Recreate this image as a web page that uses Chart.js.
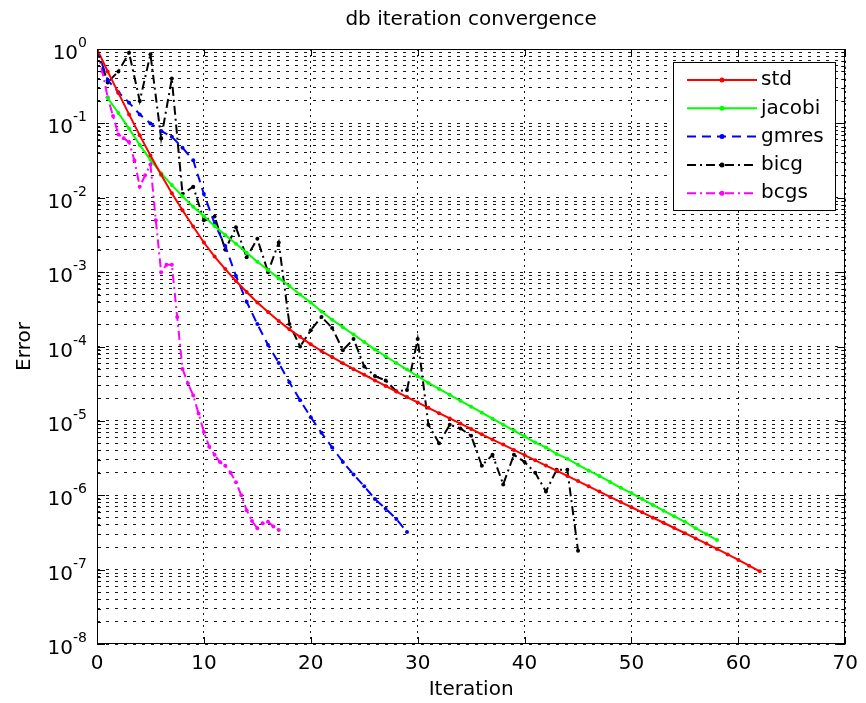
<!DOCTYPE html>
<html>
<head>
<meta charset="utf-8">
<title>db iteration convergence</title>
<script src="https://cdn.jsdelivr.net/npm/chart.js@4.4.1/dist/chart.umd.min.js"></script>
<style>
  html, body { margin: 0; padding: 0; background: #fff; }
  #wrap { width: 866px; height: 703px; }
</style>
</head>
<body>
<div id="wrap"><canvas id="convChart" width="866" height="703"></canvas></div>
<script>
// Residual history of each solver (error vs iteration)
const stdErr = [1, 0.50, 0.257, 0.132, 0.069, 0.037, 0.0204, 0.0115, 0.0068, 0.0041,
  0.0025, 0.00162, 0.0011, 7.6e-4, 5.4e-4, 3.9e-4, 2.9e-4, 2.2e-4, 1.7e-4, 1.35e-4,
  1.07e-4, 8.7e-5, 7.2e-5, 5.96e-5, 4.95e-5, 4.17e-5, 3.5e-5, 2.95e-5, 2.48e-5, 2.09e-5,
  1.77e-5, 1.5e-5, 1.27e-5, 1.08e-5, 9.2e-6, 7.8e-6, 6.6e-6, 5.6e-6, 4.8e-6, 4.07e-6,
  3.47e-6, 2.95e-6, 2.51e-6, 2.14e-6, 1.82e-6, 1.55e-6, 1.32e-6, 1.12e-6, 9.5e-7, 8.1e-7,
  6.9e-7, 5.9e-7, 5.0e-7, 4.27e-7, 3.63e-7, 3.09e-7, 2.63e-7, 2.24e-7, 1.9e-7, 1.6e-7,
  1.35e-7, 1.13e-7, 9.5e-8];

// jacobi starts at iteration 1
const jacobiErr = [0.219, 0.138, 0.0851, 0.0513, 0.0324, 0.0214, 0.0148, 0.0105, 0.00759,
  0.00562, 0.00417, 0.00316, 0.0024, 0.00182, 0.00138, 0.00107, 8.3e-4, 6.5e-4, 5.0e-4,
  3.9e-4, 2.95e-4, 2.29e-4, 1.82e-4, 1.45e-4, 1.15e-4, 9.1e-5, 7.4e-5, 6.0e-5, 4.9e-5,
  3.98e-5, 3.24e-5, 2.69e-5, 2.24e-5, 1.86e-5, 1.55e-5, 1.29e-5, 1.07e-5, 8.9e-6, 7.4e-6,
  6.2e-6, 5.1e-6, 4.4e-6, 3.6e-6, 3.1e-6, 2.57e-6, 2.14e-6, 1.82e-6, 1.51e-6, 1.26e-6,
  1.07e-6, 8.9e-7, 7.4e-7, 6.2e-7, 5.2e-7, 4.4e-7, 3.6e-7, 3.0e-7, 2.5e-7];

const gmresErr = [1, 0.38, 0.263, 0.19, 0.132, 0.1, 0.079, 0.066, 0.047, 0.032,
  0.0112, 0.0045, 0.00224, 8.9e-4, 4.0e-4, 2.0e-4, 1.05e-4, 6.0e-5, 3.3e-5, 1.9e-5,
  1.12e-5, 6.9e-6, 4.4e-6, 2.8e-6, 1.9e-6, 1.32e-6, 8.9e-7, 6.6e-7, 4.8e-7, 3.2e-7];

const bicgErr = [1, 0.355, 0.50, 0.89, 0.20, 0.85, 0.063, 0.40, 0.0112, 0.0141,
  0.0050, 0.0056, 0.0020, 0.0040, 0.00158, 0.0028, 0.0010, 0.0025, 2.0e-4, 1.0e-4,
  1.66e-4, 2.5e-4, 1.78e-4, 8.9e-5, 1.26e-4, 5.4e-5, 4.0e-5, 3.5e-5, 2.5e-5, 2.6e-5,
  1.26e-4, 8.9e-6, 5.0e-6, 8.9e-6, 7.9e-6, 6.3e-6, 2.5e-6, 3.5e-6, 1.4e-6, 3.5e-6,
  2.8e-6, 2.0e-6, 1.12e-6, 2.2e-6, 2.2e-6, 1.8e-7];

// bicgstab reports half steps
const bcgsIter = [0, 0.5, 1, 1.5, 2, 2.5, 3, 3.5, 4, 4.5, 5, 5.5, 6, 6.5, 7, 7.5, 8, 8.5,
  9, 9.5, 10, 10.5, 11, 11.5, 12, 12.5, 13, 13.5, 14, 14.5, 15, 15.5, 16, 16.5, 17];
const bcgsErr = [1, 0.50, 0.224, 0.126, 0.071, 0.063, 0.056, 0.0316, 0.0141, 0.020,
  0.028, 0.005, 0.001, 0.00126, 0.00126, 2.5e-4, 5.0e-5, 3.2e-5, 2.2e-5, 1.26e-5,
  7.1e-6, 4.5e-6, 3.5e-6, 2.8e-6, 2.5e-6, 2.0e-6, 1.5e-6, 1.0e-6, 6.3e-7, 4.5e-7,
  3.6e-7, 4.2e-7, 4.4e-7, 3.8e-7, 3.4e-7];

const xTicks = [0, 10, 20, 30, 40, 50, 60, 70];
const decades = [0, -1, -2, -3, -4, -5, -6, -7, -8];
const mantissas = [1, 2, 3, 4, 5, 6, 7, 8, 9];

const FONT = 'DejaVu Sans';

// all minor/major positions of the log axis
const yTickVals = [];
decades.forEach(d => {
  if (d === 0) { yTickVals.push(1); return; }
  mantissas.forEach(m => yTickVals.push(+(m + 'e' + d)));
});
yTickVals.sort((a, b) => a - b);

function pts(vals, offset) {
  return vals.map((v, i) => ({ x: i + offset, y: v }));
}

// frame, inward ticks, superscript labels, title and legend, MATLAB-like
const matlabFrame = {
  id: 'matlabFrame',
  afterDatasetsDraw(chart) {
    const { ctx, chartArea: a, scales: { x, y } } = chart;
    ctx.save();
    ctx.setLineDash([]);
    ctx.strokeStyle = '#000';
    ctx.lineWidth = 1;
    ctx.strokeRect(Math.round(a.left) + 0.5, Math.round(a.top) + 0.5,
      Math.round(a.right - a.left) - 1, Math.round(a.bottom - a.top) - 1);

    ctx.beginPath();
    xTicks.forEach(v => {
      const px = Math.round(x.getPixelForValue(v)) + 0.5;
      ctx.moveTo(px, a.bottom); ctx.lineTo(px, a.bottom - 7);
      ctx.moveTo(px, a.top); ctx.lineTo(px, a.top + 7);
    });
    yTickVals.forEach(v => {
      const py = Math.round(y.getPixelForValue(v)) + 0.5;
      const len = Math.abs(Math.log10(v) - Math.round(Math.log10(v))) < 1e-9 ? 8 : 4;
      ctx.moveTo(a.left, py); ctx.lineTo(a.left + len, py);
      ctx.moveTo(a.right, py); ctx.lineTo(a.right - len, py);
    });
    ctx.stroke();

    // y labels 10^k
    ctx.fillStyle = '#000';
    ctx.textBaseline = 'alphabetic';
    ctx.textAlign = 'left';
    decades.forEach(d => {
      const py = y.getPixelForValue(Math.pow(10, d));
      const exp = String(d);
      ctx.font = '14px ' + FONT;
      const ew = ctx.measureText(exp).width;
      ctx.font = '20px ' + FONT;
      const bw = ctx.measureText('10').width;
      const right = a.left - 10;
      ctx.fillText('10', right - ew - bw, py + 10);
      ctx.font = '14px ' + FONT;
      ctx.fillText(exp, right - ew, py - 2);
    });

    // title
    ctx.font = '20px ' + FONT;
    ctx.textAlign = 'center';
    ctx.textBaseline = 'middle';
    ctx.fillText('db iteration convergence', (a.left + a.right) / 2, 20);

    // legend
    const lx = 673, ly = 62, lw = 162, lh = 148;
    ctx.fillStyle = '#fff';
    ctx.fillRect(lx, ly, lw, lh);
    ctx.strokeStyle = '#000';
    ctx.lineWidth = 1;
    ctx.strokeRect(lx + 0.5, ly + 0.5, lw, lh);
    ctx.textAlign = 'left';
    ctx.font = '20px ' + FONT;
    chart.data.datasets.forEach((ds, i) => {
      const yy = 80 + i * 28.3;
      ctx.strokeStyle = ds.borderColor;
      ctx.lineWidth = 2;
      ctx.setLineDash(ds.borderDash || []);
      ctx.beginPath();
      ctx.moveTo(687, yy); ctx.lineTo(757, yy);
      ctx.stroke();
      ctx.setLineDash([]);
      ctx.fillStyle = ds.borderColor;
      ctx.beginPath();
      ctx.arc(722, yy, 2.5, 0, Math.PI * 2);
      ctx.fill();
      ctx.fillStyle = '#000';
      ctx.fillText(ds.label, 761, yy);
    });
    ctx.restore();
  }
};

function series(label, data, color, dash) {
  return {
    label: label,
    data: data,
    borderColor: color,
    backgroundColor: color,
    borderWidth: 2,
    borderDash: dash,
    pointRadius: 2,
    pointBorderWidth: 0,
    pointBackgroundColor: color,
    tension: 0
  };
}

const ctx = document.getElementById('convChart').getContext('2d');
new Chart(ctx, {
  type: 'line',
  data: {
    datasets: [
      series('std', pts(stdErr, 0), '#ff0000', []),
      series('jacobi', pts(jacobiErr, 1), '#00ff00', []),
      series('gmres', pts(gmresErr, 0), '#0000ff', [9, 6]),
      series('bicg', pts(bicgErr, 0), '#000000', [9, 4, 2, 4]),
      series('bcgs', bcgsErr.map((v, i) => ({ x: bcgsIter[i], y: v })), '#ff00ff', [9, 4, 2, 4])
    ]
  },
  options: {
    responsive: false,
    devicePixelRatio: 1,
    animation: false,
    layout: { padding: { top: 49, right: 16, bottom: 0, left: 0 } },
    plugins: { legend: { display: false }, tooltip: { enabled: false } },
    scales: {
      x: {
        type: 'linear',
        min: 0,
        max: 70,
        afterBuildTicks: s => { s.ticks = xTicks.map(v => ({ value: v })); },
        afterFit: s => { s.height = 59; },
        ticks: { color: '#000', font: { family: FONT, size: 20 }, padding: 8 },
        grid: { color: 'rgba(0,0,0,0.9)', drawTicks: false },
        border: { display: false, dash: [2, 4] },
        title: { display: true, text: 'Iteration', color: '#000',
          font: { family: FONT, size: 20 }, padding: { top: 0, bottom: 1 } }
      },
      y: {
        type: 'logarithmic',
        min: 1e-8,
        max: 1,
        afterBuildTicks: s => { s.ticks = yTickVals.map(v => ({ value: v })); },
        afterFit: s => { s.width = 97; },
        ticks: { display: false, autoSkip: false },
        grid: { color: 'rgba(0,0,0,0.9)', drawTicks: false },
        border: { display: false, dash: [3, 6] },
        title: { display: true, text: 'Error', color: '#000',
          font: { family: FONT, size: 20 }, padding: { top: 13, bottom: 0 } }
      }
    }
  },
  plugins: [matlabFrame]
});
</script>
</body>
</html>
